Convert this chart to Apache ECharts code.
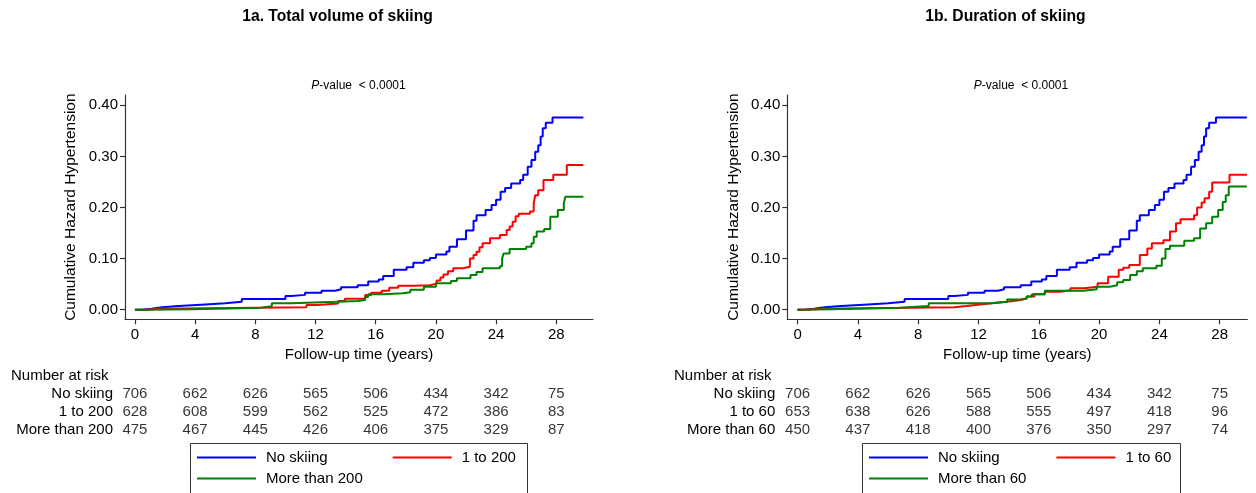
<!DOCTYPE html>
<html><head><meta charset="utf-8">
<script src="https://cdn.jsdelivr.net/npm/echarts@6/dist/echarts.min.js"></script>
<style>html,body{margin:0;padding:0;background:#fff}#c{width:1256px;height:493px}</style>
</head><body><div id="c"></div>
<script>
// ---- data ----
const timeTicks = [0, 4, 8, 12, 16, 20, 24, 28];
const hazardTicks = [0, 0.1, 0.2, 0.3, 0.4];
const groupsA = ['No skiing', '1 to 200', 'More than 200'];
const groupsB = ['No skiing', '1 to 60', 'More than 60'];

// cumulative hazard step points [years, hazard]
const noSkiing = [[0,0],[0.44,0.002],[1.1,0.005],[1.8,0.007],[2.9,0.0098],[4.4,0.0125],[6.0,0.0157],[7.1,0.021],[10.0,0.027],[10.4,0.029],[11.3,0.033],[12.4,0.037],[13.3,0.040],[13.7,0.044],[14.8,0.048],[15.5,0.055],[16.2,0.059],[16.5,0.066],[17.2,0.078],[18.05,0.083],[18.5,0.092],[19.2,0.097],[19.6,0.101],[20.0,0.108],[20.7,0.114],[20.9,0.123],[21.4,0.138],[22.0,0.155],[22.5,0.174],[22.7,0.185],[23.3,0.195],[23.7,0.205],[24.0,0.215],[24.3,0.231],[24.6,0.238],[25.0,0.247],[25.6,0.254],[25.8,0.264],[26.1,0.280],[26.35,0.293],[26.6,0.309],[26.8,0.322],[26.96,0.339],[27.1,0.355],[27.3,0.366],[27.75,0.376],[29.8,0.376]];
const volume1to200 = [[0,0],[0.8,0.002],[1.55,0.005],[11.4,0.009],[12.1,0.010],[12.6,0.012],[13.5,0.017],[13.95,0.0215],[15.3,0.029],[15.7,0.033],[16.4,0.037],[16.9,0.043],[17.5,0.047],[18.5,0.048],[19.6,0.051],[20.05,0.057],[20.3,0.063],[20.5,0.069],[20.8,0.075],[21.15,0.081],[21.8,0.084],[22.26,0.100],[22.5,0.107],[22.7,0.1135],[22.9,0.122],[23.1,0.130],[23.6,0.140],[24.25,0.146],[24.7,0.156],[24.9,0.163],[25.1,0.172],[25.3,0.183],[25.5,0.188],[26.25,0.192],[26.5,0.208],[26.6,0.224],[26.8,0.234],[27.15,0.254],[27.8,0.264],[28.7,0.283],[29.8,0.283]];
const volumeOver200 = [[0,0],[0.8,0.001],[3.8,0.004],[8.4,0.007],[9.1,0.0125],[10.4,0.0157],[13.5,0.017],[14.8,0.019],[15.3,0.025],[15.5,0.030],[16.5,0.032],[17.8,0.034],[18.3,0.039],[19.2,0.045],[20.0,0.0516],[21.0,0.056],[21.4,0.0614],[22.3,0.068],[22.7,0.074],[23.1,0.081],[24.25,0.085],[24.4,0.100],[24.5,0.110],[24.9,0.119],[26.0,0.123],[26.35,0.130],[26.5,0.143],[26.7,0.153],[27.2,0.158],[27.6,0.182],[28.1,0.195],[28.5,0.208],[28.6,0.221],[29.8,0.221]];
const duration1to60 = [[0,0],[0.5,0.002],[1.7,0.005],[10.4,0.007],[11.2,0.009],[11.8,0.0125],[12.9,0.0157],[13.9,0.019],[14.8,0.022],[15.2,0.026],[15.7,0.030],[16.4,0.035],[17.4,0.038],[18.1,0.042],[19.0,0.045],[19.9,0.0516],[20.6,0.0646],[21.3,0.078],[21.6,0.082],[22.0,0.0875],[22.7,0.107],[23.2,0.120],[23.5,0.130],[24.27,0.136],[24.7,0.153],[25.1,0.169],[25.4,0.177],[26.3,0.185],[26.5,0.200],[26.8,0.210],[27.0,0.218],[27.3,0.231],[27.5,0.249],[28.65,0.264],[29.8,0.264]];
const durationOver60 = [[0,0],[0.4,0.001],[2.2,0.004],[6.8,0.007],[8.7,0.0125],[12.8,0.0157],[13.9,0.020],[14.8,0.022],[15.2,0.026],[15.55,0.030],[16.4,0.037],[18.95,0.040],[19.85,0.045],[20.7,0.048],[21.2,0.0535],[21.6,0.058],[22.06,0.068],[22.5,0.075],[22.9,0.081],[23.8,0.086],[24.16,0.100],[24.4,0.119],[24.7,0.125],[25.65,0.135],[26.3,0.140],[26.7,0.159],[27.1,0.169],[27.5,0.182],[27.9,0.195],[28.2,0.211],[28.4,0.224],[28.6,0.241],[29.8,0.241]];

// numbers at risk at timeTicks
const riskA = [
  [706, 662, 626, 565, 506, 434, 342, 75],
  [628, 608, 599, 562, 525, 472, 386, 83],
  [475, 467, 445, 426, 406, 375, 329, 87]
];
const riskB = [
  [706, 662, 626, 565, 506, 434, 342, 75],
  [653, 638, 626, 588, 555, 497, 418, 96],
  [450, 437, 418, 400, 376, 350, 297, 74]
];

const COLORS = ['#0000ff', '#ff0000', '#008000'];
const FONT = 'Liberation Sans, Arial, sans-serif';
const AXC = '#333';

const panels = [
  {left: 125, width: 468, xmin: -0.66, xmax: 30.44, groups: groupsA, curves: [noSkiing, volume1to200, volumeOver200], risk: riskA},
  {left: 787.3, width: 460, xmin: -0.68, xmax: 29.83, groups: groupsB, curves: [noSkiing, duration1to60, durationOver60], risk: riskB}
];

const grid = [], xAxis = [], yAxis = [], series = [];
panels.forEach((p, k) => {
  const gPlot = grid.length;
  grid.push({left: p.left, top: 95, width: p.width, height: 224.3});
  xAxis.push({
    type: 'value', gridIndex: gPlot, min: p.xmin, max: p.xmax,
    name: 'Follow-up time (years)', nameLocation: 'middle', nameGap: 28,
    nameTextStyle: {fontFamily: FONT, fontSize: 15, color: '#000'},
    axisLine: {show: true, onZero: false, lineStyle: {color: AXC, width: 1.2}},
    axisTick: {show: true, customValues: timeTicks, length: 5, lineStyle: {color: AXC, width: 1.2}},
    axisLabel: {customValues: timeTicks, fontFamily: FONT, fontSize: 15, color: '#000', margin: 8},
    splitLine: {show: false}
  });
  yAxis.push({
    type: 'value', gridIndex: gPlot, min: -0.0188, max: 0.4202,
    name: 'Cumulative Hazard Hypertension', nameLocation: 'middle', nameGap: 46, nameRotate: 90,
    nameTextStyle: {fontFamily: FONT, fontSize: 15.5, color: '#000'},
    axisLine: {show: true, onZero: false, lineStyle: {color: AXC, width: 1.2}},
    axisTick: {show: true, customValues: hazardTicks, length: 5, lineStyle: {color: AXC, width: 1.2}},
    axisLabel: {customValues: hazardTicks, fontFamily: FONT, fontSize: 15, color: '#000', margin: 7,
      formatter: v => v.toFixed(2)},
    splitLine: {show: false}
  });
  p.curves.forEach((c, i) => {
    series.push({
      type: 'line', name: p.groups[i], xAxisIndex: gPlot, yAxisIndex: gPlot,
      data: c, step: 'end', showSymbol: false, symbol: 'none', animation: false,
      lineStyle: {color: COLORS[i], width: 2}, itemStyle: {color: COLORS[i]}, z: 2 + i
    });
  });
  // risk table grid
  const gTab = grid.length;
  grid.push({left: p.left, top: 385.4, width: p.width, height: 53.6});
  xAxis.push({type: 'value', gridIndex: gTab, min: p.xmin, max: p.xmax, show: false});
  yAxis.push({
    type: 'category', gridIndex: gTab, data: p.groups, inverse: true,
    axisLine: {show: false}, axisTick: {show: false},
    axisLabel: {interval: 0, fontFamily: FONT, fontSize: 15, color: '#000', margin: 12}
  });
  const pts = [];
  p.risk.forEach((row, r) => row.forEach((n, j) => pts.push([timeTicks[j], r, n])));
  series.push({
    type: 'scatter', xAxisIndex: gTab, yAxisIndex: gTab, data: pts, symbolSize: 2,
    itemStyle: {color: 'rgba(255,255,255,0)'}, animation: false, silent: true,
    labelLayout: {hideOverlap: false},
    label: {show: true, position: 'inside', formatter: q => String(q.value[2]),
      fontFamily: FONT, fontSize: 15, color: '#000', textBorderWidth: 0}
  });
});

const legendBase = {itemWidth: 59, itemHeight: 2, padding: 0, orient: 'horizontal', icon: 'rect',
  textStyle: {fontFamily: FONT, fontSize: 15, color: '#000', padding: [0, 0, 0, 5]}, selectedMode: false};
const legend = [
  Object.assign({}, legendBase, {data: [groupsA[0], groupsA[1]], left: 197, top: 450, itemGap: 65}),
  Object.assign({}, legendBase, {data: [groupsA[2]], left: 197, top: 471}),
  Object.assign({}, legendBase, {data: [groupsB[0], groupsB[1]], left: 869, top: 450, itemGap: 56.7}),
  Object.assign({}, legendBase, {data: [groupsB[2]], left: 869, top: 471})
];

function txt(x, y, text, size, align, extra) {
  return {type: 'text', x: x, y: y, silent: true,
    style: Object.assign({text: text, fontFamily: FONT, fontSize: size, fill: '#000', align: align, verticalAlign: 'middle'}, extra || {})};
}
const pStyle = {rich: {i: {fontStyle: 'italic', fontFamily: FONT, fontSize: 12, fill: '#000'}, n: {fontFamily: FONT, fontSize: 12, fill: '#000'}}};
const graphic = [
  txt(337.5, 17, '1a. Total volume of skiing', 15.7, 'center', {fontWeight: 'bold'}),
  txt(1005.5, 17, '1b. Duration of skiing', 15.7, 'center', {fontWeight: 'bold'}),
  txt(358.5, 86, '{i|P}{n|-value  < 0.0001}', 12, 'center', pStyle),
  txt(1021, 86, '{i|P}{n|-value  < 0.0001}', 12, 'center', pStyle),
  txt(11, 376, 'Number at risk', 15, 'left'),
  txt(674, 376, 'Number at risk', 15, 'left'),
  {type: 'rect', shape: {x: 190.5, y: 443.5, width: 337, height: 70}, style: {fill: 'none', stroke: AXC, lineWidth: 1}, silent: true},
  {type: 'rect', shape: {x: 862.5, y: 443.5, width: 318, height: 70}, style: {fill: 'none', stroke: AXC, lineWidth: 1}, silent: true}
];

const chart = echarts.init(document.getElementById('c'), null, {renderer: 'canvas'});
chart.setOption({animation: false, backgroundColor: '#fff', grid, xAxis, yAxis, series, legend, graphic});
</script>
</body></html>
